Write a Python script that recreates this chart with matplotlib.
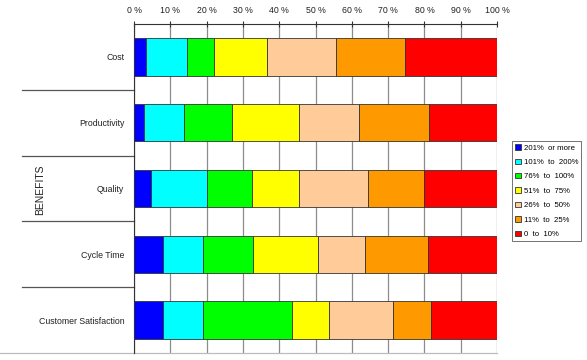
import matplotlib.pyplot as plt
from matplotlib.patches import Patch
from matplotlib.transforms import blended_transform_factory
import numpy as np

plt.rcParams['font.family'] = ['Liberation Sans', 'DejaVu Sans']

categories = ['Cost', 'Productivity', 'Quality', 'Cycle Time', 'Customer Satisfaction']
series_names = ['201%  or more', '101%  to  200%', '76%  to  100%', '51%  to  75%',
                '26%  to  50%', '11%  to  25%', '0  to  10%']
colors = ['#0000FF', '#00FFFF', '#00FF00', '#FFFF00', '#FFCC99', '#FF9900', '#FF0000']

# percent share of each bracket, one list per category
cost = [3.3, 11.2, 7.6, 14.6, 18.9, 19.0, 25.4]
productivity = [2.8, 11.0, 13.1, 18.6, 16.6, 19.2, 18.7]
quality = [4.6, 15.4, 12.6, 12.9, 19.1, 15.3, 20.1]
cycle_time = [8.1, 10.8, 13.8, 18.1, 12.9, 17.4, 18.9]
customer_sat = [8.1, 11.0, 24.5, 10.0, 17.8, 10.4, 18.2]

tick_labels = ['0 %', '10 %', '20 %', '30 %', '40 %', '50 %', '60 %', '70 %', '80 %', '90 %', '100 %']

data = np.array([cost, productivity, quality, cycle_time, customer_sat])

fig = plt.figure(figsize=(5.87, 3.6), dpi=100)
ax = fig.add_axes([134/587, 1-353/360, 363/587, 329/360])

y = np.arange(len(categories))
left = np.zeros(len(categories))
for i in range(data.shape[1]):
    ax.barh(y, data[:, i], left=left, height=0.57, color=colors[i],
            edgecolor='#333333', linewidth=0.6, zorder=3)
    left += data[:, i]

ax.set_xlim(0, 100)
ax.set_ylim(4.5, -0.5)
ax.set_xticks(np.arange(0, 101, 10))
ax.set_xticklabels(tick_labels, fontsize=6.3, color='#222222')
ax.xaxis.tick_top()
ax.tick_params(axis='x', direction='inout', length=5, width=0.8, pad=4, color='#333333')
ax.set_yticks(y)
ax.set_yticklabels(categories, fontsize=6.3, color='#222222')
ax.tick_params(axis='y', length=0, pad=7)
ax.grid(axis='x', color='#8c8c8c', linewidth=0.9, zorder=0)
ax.set_axisbelow(True)

for s in ['right', 'bottom']:
    ax.spines[s].set_visible(False)
ax.spines['top'].set_color('#333333')
ax.spines['left'].set_color('#333333')

trans = blended_transform_factory(ax.transAxes, ax.transData)
for b in [0.5, 1.5, 2.5, 3.5]:
    ax.plot([-0.309, 0], [b, b], transform=trans, color='#555555', linewidth=0.9, clip_on=False)
ax.plot([-134/363, 1], [4.5, 4.5], transform=trans, color='#bbbbbb', linewidth=0.9, clip_on=False)

fig.text(40/587, 1-190/360, 'BENEFITS', rotation=90, ha='center', va='center', fontsize=7.5,
         color='#222222')

handles = [Patch(facecolor=c, edgecolor='#333333', linewidth=0.6) for c in colors]
leg = fig.legend(handles, series_names, loc='upper left', bbox_to_anchor=(512/587, 1-141/360),
                 fontsize=5.6, frameon=True, fancybox=False, handlelength=0.7, handleheight=0.7,
                 handletextpad=0.4, labelspacing=0.9, borderpad=0.4, borderaxespad=0)
leg.get_frame().set_edgecolor('#333333')
leg.get_frame().set_linewidth(0.6)

fig.savefig('out.png', dpi=100)
